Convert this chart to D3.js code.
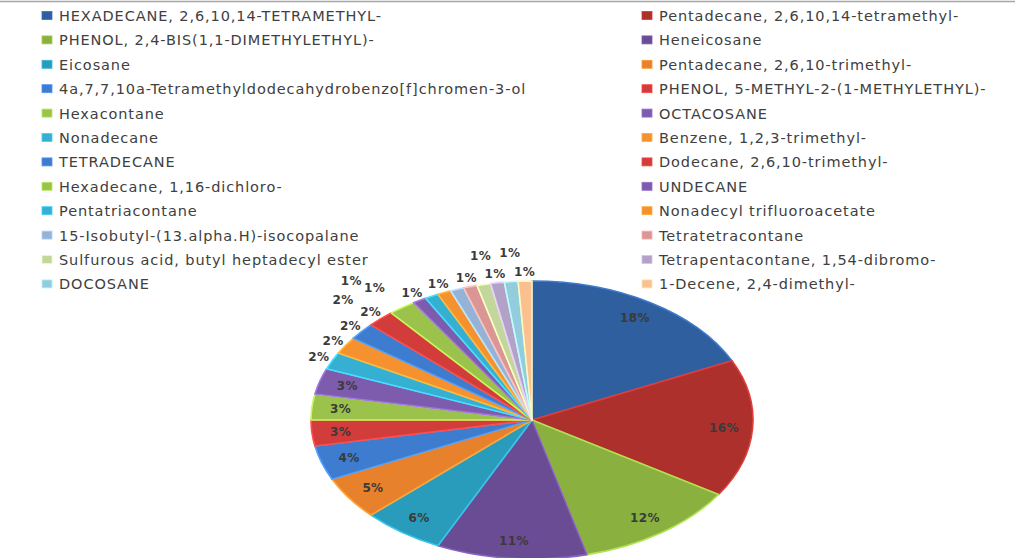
<!DOCTYPE html>
<html>
<head>
<meta charset="utf-8">
<script src="https://cdn.jsdelivr.net/npm/d3@7"></script>
<style>
  body { margin: 0; background: #fff; }
  svg { display: block; }
</style>
</head>
<body>
<svg id="chart" width="1015" height="558"></svg>
<script>
// compounds in slice order (clockwise from 12 o'clock), legend is row-major in 2 columns
const compounds = [
  "HEXADECANE, 2,6,10,14-TETRAMETHYL-",
  "Pentadecane, 2,6,10,14-tetramethyl-",
  "PHENOL, 2,4-BIS(1,1-DIMETHYLETHYL)-",
  "Heneicosane",
  "Eicosane",
  "Pentadecane, 2,6,10-trimethyl-",
  "4a,7,7,10a-Tetramethyldodecahydrobenzo[f]chromen-3-ol",
  "PHENOL, 5-METHYL-2-(1-METHYLETHYL)-",
  "Hexacontane",
  "OCTACOSANE",
  "Nonadecane",
  "Benzene, 1,2,3-trimethyl-",
  "TETRADECANE",
  "Dodecane, 2,6,10-trimethyl-",
  "Hexadecane, 1,16-dichloro-",
  "UNDECANE",
  "Pentatriacontane",
  "Nonadecyl trifluoroacetate",
  "15-Isobutyl-(13.alpha.H)-isocopalane",
  "Tetratetracontane",
  "Sulfurous acid, butyl heptadecyl ester",
  "Tetrapentacontane, 1,54-dibromo-",
  "DOCOSANE",
  "1-Decene, 2,4-dimethyl-"
];

// percent share of each compound
const shares = [18, 16, 12, 11, 6, 5, 4, 3, 3, 3, 2, 2, 2, 2, 2, 1, 1, 1, 1, 1, 1, 1, 1, 1];

const sliceColors = [
  "#2f5f9f", "#ae302d", "#8ab03f", "#6a4c95", "#2a9cbb", "#e8812b",
  "#3e7ccf", "#d23c3a", "#9bc24b", "#7d5cae", "#36b0d2", "#f5912f",
  "#3e7ccf", "#d23c3a", "#9bc24b", "#7d5cae", "#36b0d2", "#f5912f",
  "#95b3d7", "#d99694", "#c3d69b", "#b3a2c7", "#93cddd", "#fac090"
];

const svg = d3.select("#chart");
const W = 1015, H = 558;

// frame line at the top
svg.append("line")
  .attr("x1", 0).attr("x2", W).attr("y1", 1.5).attr("y2", 1.5)
  .attr("stroke", "#a6a6a6").attr("stroke-width", 1.5);

// --- Legend ---
const legendCols = [42, 642];
const legendTop = 16, legendStep = 24.4;
const legend = svg.append("g").attr("class", "legend");
compounds.forEach((name, i) => {
  const col = i % 2, row = Math.floor(i / 2);
  const x = legendCols[col], y = legendTop + row * legendStep;
  const c = d3.color(sliceColors[i]);
  legend.append("rect")
    .attr("x", x).attr("y", y - 4.5).attr("width", 10).attr("height", 8)
    .attr("fill", sliceColors[i])
    .attr("stroke", c.brighter(0.5))
    .attr("stroke-width", 0.8);
  legend.append("text")
    .attr("x", x + 17).attr("y", y)
    .attr("dy", "0.35em")
    .attr("font-family", "DejaVu Sans, sans-serif")
    .attr("font-size", 14.5)
    .attr("letter-spacing", 0.9)
    .attr("fill", "#404040")
    .text(name);
});

// --- Pie (flattened ellipse) ---
const cx = 532, cy = 420, rx = 221, ry = 139;
const pie = d3.pie().sort(null).value(d => d)(shares);
const arc = d3.arc().innerRadius(0).outerRadius(rx);

const pieG = svg.append("g")
  .attr("transform", `translate(${cx},${cy}) scale(1,${ry / rx})`);
pieG.selectAll("path")
  .data(pie)
  .join("path")
  .attr("d", arc)
  .attr("fill", (d, i) => sliceColors[i])
  .attr("stroke", (d, i) => d3.color(sliceColors[i]).brighter(0.7))
  .attr("stroke-width", 1.6)
  .attr("stroke-linejoin", "round")
  .attr("vector-effect", "non-scaling-stroke");

// --- Percentage labels ---
const ellPt = (a, f) => [cx + f * rx * Math.sin(a), cy - f * ry * Math.cos(a)];
const paramAngle = (x, y) => {
  let a = Math.atan2((x - cx) / rx, -(y - cy) / ry);
  return a < 0 ? a + 2 * Math.PI : a;
};

const labelG = svg.append("g");
const placed = [];
pie.forEach((d, i) => {
  const a = (d.startAngle + d.endAngle) / 2;
  const t = labelG.append("text")
    .attr("font-family", "DejaVu Sans, sans-serif")
    .attr("font-size", 12)
    .attr("font-weight", "bold")
    .attr("letter-spacing", 0.4)
    .attr("fill", "#3a3a3a")
    .attr("text-anchor", "middle")
    .attr("dy", "0.35em")
    .text(d.value + "%");
  const bb = t.node().getBBox();
  const w = bb.width, h = 10;

  // best fit: inside when the padded label box sits within the slice
  let [x, y] = ellPt(a, 0.87);
  const pw = w / 2 + 2, ph = h / 2 + 2;
  const corners = [[x - pw, y - ph], [x + pw, y - ph], [x - pw, y + ph], [x + pw, y + ph]];
  const fits = corners.every(([px, py]) => {
    const pa = paramAngle(px, py);
    const r = Math.hypot((px - cx) / rx, (py - cy) / ry);
    return r < 1 && pa >= d.startAngle && pa <= d.endAngle;
  });

  if (!fits) {
    // outside, just beyond the rim; crowded ones slide left on the side, up near the top
    const s = Math.sin(a), c = Math.cos(a);
    const [ex, ey] = ellPt(a, 1);
    x = ex + s * (w / 2 + 4);
    y = ey - c * (h / 2 + 4);
    const overlaps = (px, py) => placed.some(p =>
      Math.abs(p.x - px) < (p.w + w) / 2 + 2 && Math.abs(p.y - py) < h + 2);
    while (overlaps(x, y)) {
      if (s < -0.3) x -= w + 4;
      else y -= h + 10;
    }
  }
  placed.push({ x, y, w });
  t.attr("x", x).attr("y", y);
});
</script>
</body>
</html>
